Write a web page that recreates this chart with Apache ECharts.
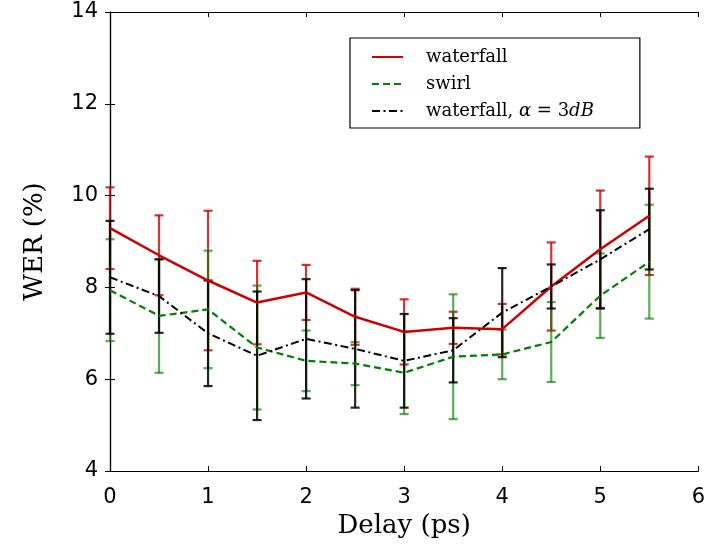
<!DOCTYPE html>
<html>
<head>
<meta charset="utf-8">
<script src="https://cdn.jsdelivr.net/npm/echarts@6/dist/echarts.min.js"></script>
<style>
  html, body { margin: 0; padding: 0; background: #fff; }
  #chart { width: 708px; height: 546px; }
</style>
</head>
<body>
<div id="chart"></div>
<script>
// Delay values (ps)
const delay = [0, 0.5, 1, 1.5, 2, 2.5, 3, 3.5, 4, 4.5, 5, 5.5];

// WER (%) and its error half-widths for each configuration
const waterfall    = [9.29, 8.70, 8.15, 7.67, 7.89, 7.36, 7.03, 7.12, 7.09, 8.02, 8.83, 9.56];
const waterfallErr = [0.89, 0.87, 1.52, 0.91, 0.60, 0.61, 0.71, 0.35, 0.55, 0.96, 1.28, 1.29];

const swirl    = [7.94, 7.38, 7.52, 6.69, 6.40, 6.34, 6.14, 6.49, 6.54, 6.81, 7.82, 8.56];
const swirlErr = [1.11, 1.24, 1.28, 1.35, 0.66, 0.47, 0.90, 1.36, 0.54, 0.87, 0.92, 1.24];

const atten    = [8.22, 7.81, 7.00, 6.51, 6.88, 6.66, 6.40, 6.63, 7.45, 8.02, 8.61, 9.27];
const attenErr = [1.23, 0.80, 1.15, 1.40, 1.30, 1.28, 1.02, 0.70, 0.97, 0.48, 1.07, 0.88];

const xTicks = [0, 1, 2, 3, 4, 5, 6];
const yTicks = [4, 6, 8, 10, 12, 14];

const names = ['waterfall', 'swirl', 'waterfall, α = 3dB'];

const RED = '#cc0000', GREEN = '#008000', BLACK = '#000000';

function pts(vals) { return delay.map((d, i) => [d, vals[i]]); }
function bars(vals, errs) { return delay.map((d, i) => [d, vals[i] - errs[i], vals[i] + errs[i]]); }

function errorBarSeries(name, data, color, opacity, z) {
  return {
    type: 'custom',
    name: name + ' err',
    data: data,
    z: z,
    silent: true,
    encode: { x: 0, y: [1, 2] },
    renderItem: function (params, api) {
      const x = api.value(0);
      const lo = api.coord([x, api.value(1)]);
      const hi = api.coord([x, api.value(2)]);
      const cap = 4.5;
      const style = { stroke: color, lineWidth: 2.2, opacity: opacity };
      return {
        type: 'group',
        children: [
          { type: 'line', shape: { x1: lo[0], y1: lo[1], x2: hi[0], y2: hi[1] }, style: style },
          { type: 'line', shape: { x1: lo[0] - cap, y1: lo[1], x2: lo[0] + cap, y2: lo[1] }, style: style },
          { type: 'line', shape: { x1: hi[0] - cap, y1: hi[1], x2: hi[0] + cap, y2: hi[1] }, style: style }
        ]
      };
    }
  };
}

const chart = echarts.init(document.getElementById('chart'), null, { renderer: 'canvas' });

const axisLine = { show: true, lineStyle: { color: '#000', width: 1.2 } };
const tick = { show: true, inside: true, length: 5, lineStyle: { color: '#000', width: 1 } };
const tickFont = { fontFamily: 'DejaVu Sans', fontSize: 21, color: '#000' };
const titleFont = { fontFamily: 'DejaVu Serif', fontSize: 26, color: '#000' };

chart.setOption({
  animation: false,
  backgroundColor: '#fff',
  grid: { left: 110, top: 12, right: 8, bottom: 75, containLabel: false },
  xAxis: [
    {
      type: 'value', min: xTicks[0], max: xTicks[xTicks.length - 1], interval: 1,
      position: 'bottom',
      name: 'Delay (ps)', nameLocation: 'middle', nameGap: 42, nameTextStyle: titleFont,
      axisLine: axisLine, axisTick: tick, splitLine: { show: false },
      axisLabel: Object.assign({ margin: 16 }, tickFont)
    },
    {
      type: 'value', min: xTicks[0], max: xTicks[xTicks.length - 1], interval: 1,
      position: 'top',
      axisLine: axisLine, axisTick: tick, splitLine: { show: false },
      axisLabel: { show: false }
    }
  ],
  yAxis: [
    {
      type: 'value', min: yTicks[0], max: yTicks[yTicks.length - 1], interval: 2,
      position: 'left',
      name: 'WER (%)', nameLocation: 'middle', nameGap: 62, nameTextStyle: titleFont,
      axisLine: axisLine, axisTick: tick, splitLine: { show: false },
      axisLabel: Object.assign({ margin: 12 }, tickFont)
    },
    {
      type: 'value', min: yTicks[0], max: yTicks[yTicks.length - 1], interval: 2,
      position: 'right',
      axisLine: axisLine, axisTick: tick, splitLine: { show: false },
      axisLabel: { show: false }
    }
  ],
  legend: {
    orient: 'vertical',
    left: 350, top: 38,
    data: names,
    itemWidth: 31, itemHeight: 14, itemGap: 9,
    padding: [10, 46, 8, 21],
    borderColor: '#000', borderWidth: 1.2, borderRadius: 0,
    backgroundColor: '#fff',
    itemStyle: { opacity: 0 },
    textStyle: {
      fontFamily: 'DejaVu Serif', fontSize: 18, color: '#000',
      padding: [0, 0, 0, 18],
      rich: { i: { fontFamily: 'DejaVu Serif', fontStyle: 'italic', fontSize: 18, color: '#000' } }
    },
    formatter: function (n) {
      return n === names[2] ? 'waterfall, {i|α} = 3{i|dB}' : n;
    }
  },
  series: [
    errorBarSeries(names[0], bars(waterfall, waterfallErr), RED, 0.8, 1),
    errorBarSeries(names[1], bars(swirl, swirlErr), GREEN, 0.65, 2),
    errorBarSeries(names[2], bars(atten, attenErr), BLACK, 0.85, 3),
    {
      type: 'line', name: names[0], data: pts(waterfall), z: 6,
      symbol: 'none', showSymbol: false,
      lineStyle: { color: RED, width: 2.5, type: 'solid' },
      itemStyle: { color: RED }
    },
    {
      type: 'line', name: names[1], data: pts(swirl), z: 5,
      symbol: 'none', showSymbol: false,
      lineStyle: { color: GREEN, width: 2.2, type: [7, 4] },
      itemStyle: { color: GREEN }
    },
    {
      type: 'line', name: names[2], data: pts(atten), z: 7,
      symbol: 'none', showSymbol: false,
      lineStyle: { color: BLACK, width: 2, type: [8, 3.5, 2, 3.5] },
      itemStyle: { color: BLACK }
    }
  ]
});
</script>
</body>
</html>
